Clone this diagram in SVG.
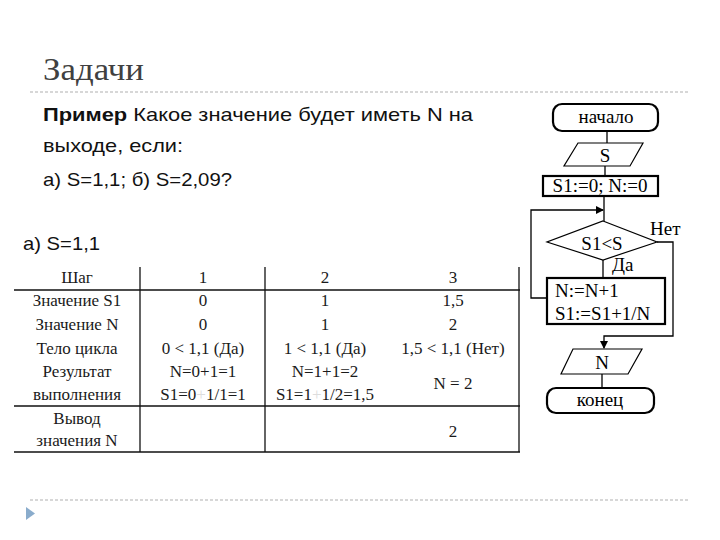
<svg xmlns="http://www.w3.org/2000/svg" width="720" height="540" viewBox="0 0 720 540">
<style>
.sans{font-family:"Liberation Sans","Noto Sans",sans-serif;fill:#111}
.serif{font-family:"Liberation Serif","DejaVu Serif",serif;fill:#1a1a1a}
.tbl{font-size:17px;text-anchor:middle}
.fc{font-size:19px;fill:#000}
.tl{stroke:#111;stroke-width:1.3;fill:none}
.ln{stroke:#000;stroke-width:1.3;fill:none}
.box{stroke:#000;stroke-width:2.2;fill:#fff}
.thin{stroke:#000;stroke-width:1.2;fill:#fff}
.dash{stroke:#b0b0b0;stroke-width:1.2;stroke-dasharray:3 2}
</style>
<defs>
<marker id="ah" markerWidth="8" markerHeight="8" refX="7" refY="4" orient="auto" markerUnits="userSpaceOnUse">
<path d="M0,0 L8,4 L0,8 z" fill="#000"/>
</marker>
</defs>
<rect width="720" height="540" fill="#fff"/>
<g id="header">
<text x="43" y="80" class="serif" font-size="31" fill="#404040" style="fill:#404040" textLength="101" lengthAdjust="spacingAndGlyphs">Задачи</text>
<line x1="30" y1="92" x2="688" y2="92" class="dash"/>
<line x1="30" y1="500" x2="688" y2="500" class="dash"/>
<path d="M26,507 L35,513.5 L26,520 z" fill="#8aaccc"/>
</g>
<g id="task">
<text x="43" y="121" class="sans" font-size="19" textLength="430" lengthAdjust="spacingAndGlyphs"><tspan font-weight="bold">Пример</tspan> Какое значение будет иметь N на</text>
<text x="43" y="152" class="sans" font-size="19" textLength="140" lengthAdjust="spacingAndGlyphs">выходе, если:</text>
<text x="43" y="186" class="sans" font-size="19" textLength="189" lengthAdjust="spacingAndGlyphs">а) S=1,1; б) S=2,09?</text>
<text x="23" y="250" class="sans" font-size="19" textLength="77" lengthAdjust="spacingAndGlyphs">а) S=1,1</text>
</g>
<g id="table">
<line x1="14" y1="290" x2="520" y2="290" class="tl"/>
<line x1="14" y1="406" x2="520" y2="406" class="tl"/>
<line x1="14" y1="452" x2="520" y2="452" class="tl"/>
<line x1="140" y1="267" x2="140" y2="452" class="tl"/>
<line x1="265" y1="267" x2="265" y2="452" class="tl"/>
<line x1="519" y1="267" x2="519" y2="452" class="tl"/>
<g class="serif tbl">
<text x="77" y="283">Шаг</text>
<text x="203" y="283">1</text>
<text x="325" y="283">2</text>
<text x="453" y="283">3</text>
<text x="77" y="306">Значение S1</text>
<text x="203" y="306">0</text>
<text x="325" y="306">1</text>
<text x="453" y="306">1,5</text>
<text x="77" y="330">Значение N</text>
<text x="203" y="330">0</text>
<text x="325" y="330">1</text>
<text x="453" y="330">2</text>
<text x="77" y="354">Тело цикла</text>
<text x="203" y="354">0 &lt; 1,1 (Да)</text>
<text x="325" y="354">1 &lt; 1,1 (Да)</text>
<text x="453" y="354">1,5 &lt; 1,1 (Нет)</text>
<text x="77" y="377">Результат</text>
<text x="203" y="377">N=0+1=1</text>
<text x="325" y="377">N=1+1=2</text>
<text x="453" y="389">N = 2</text>
<text x="77" y="400">выполнения</text>
<text x="203" y="400">S1=0<tspan fill="#ddd">+</tspan>1/1=1</text>
<text x="325" y="400">S1=1<tspan fill="#ddd">+</tspan>1/2=1,5</text>
<text x="77" y="424">Вывод</text>
<text x="77" y="446">значения N</text>
<text x="453" y="437">2</text>
</g>
</g>
<g id="connectors">
<line x1="607" y1="131" x2="607" y2="143" class="ln"/>
<line x1="605" y1="166" x2="605" y2="176" class="ln"/>
<line x1="604" y1="196" x2="604" y2="221" class="ln"/>
<polyline points="547,298 531,298 531,210 603,210" class="ln" marker-end="url(#ah)"/>
<line x1="603" y1="260" x2="603" y2="278" class="ln"/>
<polyline points="657,242 673,242 673,336 604,336 604,348" class="ln" marker-end="url(#ah)"/>
<line x1="602" y1="374" x2="602" y2="388" class="ln"/>
<text x="650" y="235" class="serif fc">Нет</text>
<text x="612" y="271" class="serif fc">Да</text>
</g>
<g id="start">
<rect x="553" y="104" width="105" height="27" rx="9" class="box"/>
<text x="606" y="123" class="serif fc" text-anchor="middle">начало</text>
</g>
<g id="input">
<polygon points="578,143 643,143 630,166 564,166" class="thin"/>
<text x="605" y="162" class="serif fc" text-anchor="middle">S</text>
</g>
<g id="init">
<rect x="543" y="176" width="115" height="20" class="box"/>
<text x="600" y="192" class="serif fc" text-anchor="middle">S1:=0; N:=0</text>
</g>
<g id="cond">
<polygon points="603,221 657,242 603,260 547,242" class="thin"/>
<text x="602" y="250" class="serif fc" text-anchor="middle">S1&lt;S</text>
</g>
<g id="body">
<rect x="547" y="278" width="118" height="46" class="box"/>
<text x="555" y="297" class="serif fc">N:=N+1</text>
<text x="555" y="320" class="serif fc">S1:=S1+1/N</text>
</g>
<g id="output">
<polygon points="573,349 642,349 628,374 561,374" class="thin"/>
<text x="602" y="369" class="serif fc" text-anchor="middle">N</text>
</g>
<g id="end">
<rect x="547" y="388" width="107" height="25" rx="9" class="box"/>
<text x="600" y="406" class="serif fc" text-anchor="middle">конец</text>
</g>
</svg>
